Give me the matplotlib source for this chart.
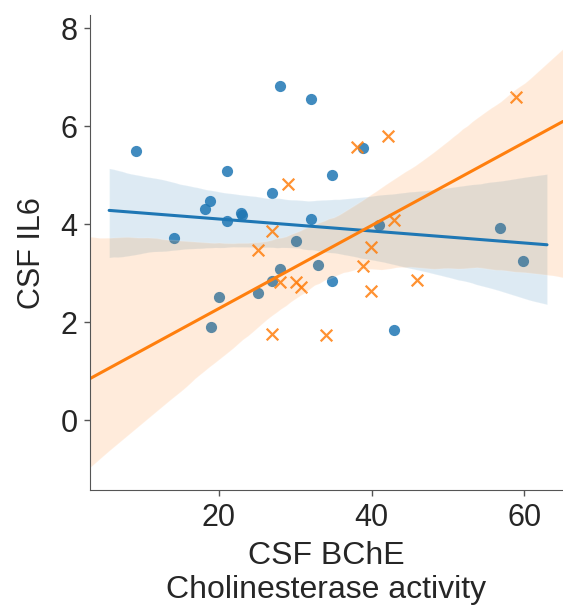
import matplotlib

matplotlib.use("Agg")
import matplotlib.pyplot as plt
import numpy as np
import seaborn as sns

# CSF BChE activity vs CSF IL6, two groups
bche_a = [9.1, 14.1, 18.2, 18.8, 21.0, 21.0, 22.9, 23.0, 20.0, 18.9, 25.1, 27.0,
          28.0, 28.0, 27.0, 32.1, 32.1, 30.1, 33.0, 34.8, 34.8, 38.9, 41.0, 42.9,
          56.9, 59.9]
il6_a = [5.49, 3.72, 4.31, 4.47, 5.08, 4.07, 4.23, 4.18, 2.52, 1.91, 2.60, 4.63,
         6.83, 3.09, 2.85, 6.56, 4.10, 3.66, 3.17, 5.00, 2.85, 5.55, 3.98, 1.83,
         3.92, 3.25]

bche_b = [29.0, 26.9, 25.1, 28.0, 30.1, 30.8, 26.9, 34.0, 58.9, 42.1, 38.1, 43.0,
          39.9, 38.9, 46.0, 39.9]
il6_b = [4.83, 3.86, 3.47, 2.83, 2.83, 2.71, 1.76, 1.74, 6.59, 5.81, 5.58, 4.09,
         3.54, 3.14, 2.87, 2.64]

x_ticks = [20, 40, 60]
y_ticks = [0, 2, 4, 6, 8]

XLIM = (3.1, 65.1)
YLIM = (-1.43, 8.27)


def main() -> None:
    sns.set_style("ticks")
    plt.rcParams["font.family"] = ["Liberation Sans", "DejaVu Sans"]
    plt.rcParams["font.size"] = 22

    fig = plt.figure(figsize=(5.63, 6.08), dpi=100)
    ax = fig.add_axes([0.16, 0.194, 0.84, 0.781])

    # regression lines run over the x range of the axes at draw time
    ax.set_xlim(5.6, 63.0)
    sns.regplot(x=np.array(bche_a), y=np.array(il6_a), ax=ax, color="#1f77b4",
                marker="o", truncate=False, seed=3,
                scatter_kws={"s": 65, "alpha": 0.85, "linewidths": 0},
                line_kws={"lw": 2.2})
    ax.set_xlim(*XLIM)
    sns.regplot(x=np.array(bche_b), y=np.array(il6_b), ax=ax, color="#ff7f0e",
                marker="x", truncate=False, seed=3,
                scatter_kws={"s": 70, "alpha": 0.85, "linewidths": 1.6},
                line_kws={"lw": 2.2})

    ax.set_xlim(*XLIM)
    ax.set_ylim(*YLIM)
    ax.set_xticks(x_ticks)
    ax.set_yticks(y_ticks)
    ax.tick_params(labelsize=22, length=4, width=1, color="#555555", pad=5)
    ax.set_xlabel("CSF BChE\nCholinesterase activity", fontsize=23, labelpad=6,
                  linespacing=1.2)
    ax.set_ylabel("CSF IL6", fontsize=22, labelpad=10)
    sns.despine(ax=ax)
    for side in ("left", "bottom"):
        ax.spines[side].set_color("#555555")

    fig.savefig("out.png", dpi=100)
    plt.close(fig)


if __name__ == "__main__":
    main()
